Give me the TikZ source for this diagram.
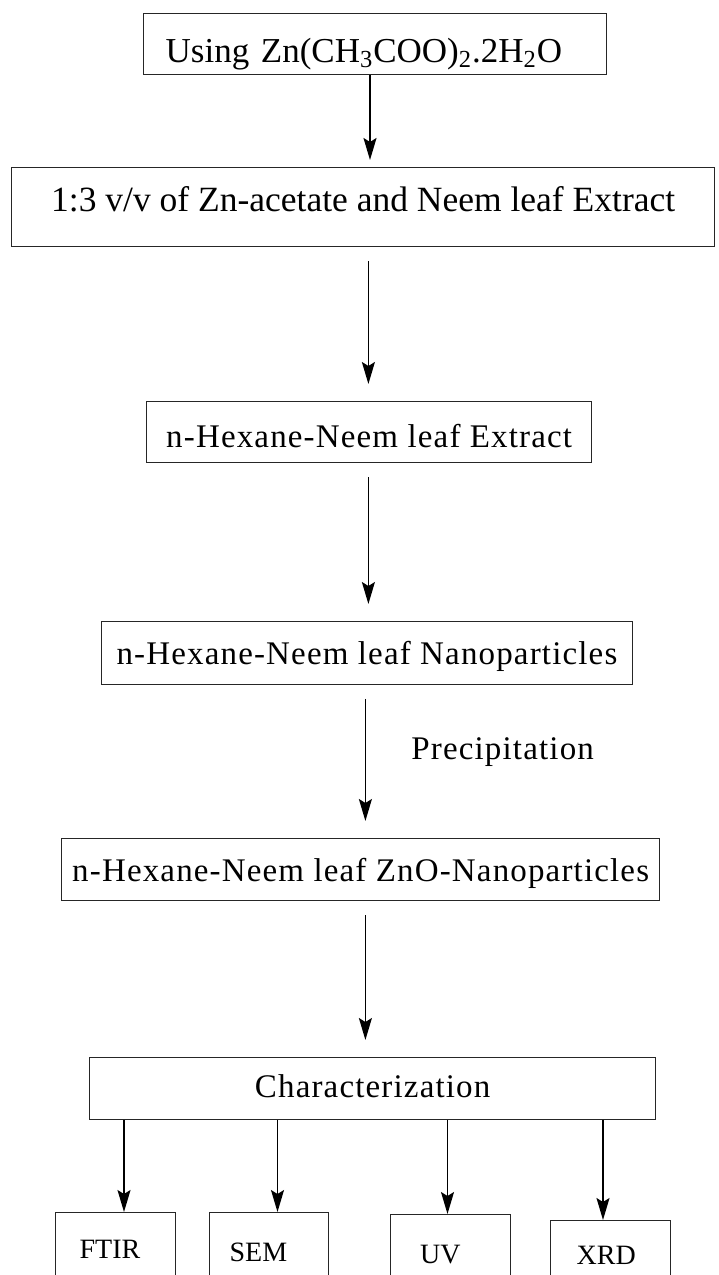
\documentclass[tikz,border=0pt]{standalone}
\usepackage{fontspec}
\setmainfont{Liberation Serif}
\newfontfamily\spacedfont[LetterSpace=3.5]{Liberation Serif}
\usetikzlibrary{arrows.meta}

\begin{document}
\begin{tikzpicture}[x=0.5pt, y=-0.5pt,
  stage/.style={draw=black!85, line width=0.65pt, inner ysep=0pt, anchor=north west},
  wide/.style={font=\spacedfont\fontsize{16.5}{19}\selectfont},
  probe/.style n args={3}{stage, align=left, inner xsep=#1, text width=#2,
    text height=#3, text depth=17pt, font=\fontsize{14}{17}\selectfont},
  link/.style={-{Stealth[length=11pt, width=6.5pt, inset=2pt]}, line width=0.75pt},
  flow/.style={link, shorten <=7pt, shorten >=8.5pt}]
\path[use as bounding box, clip] (0,0) rectangle (718,1275);

% main chain
\node[stage, inner xsep=11pt, text width=209.5pt, align=left, text height=24.5pt,
  text depth=6pt, font=\fontsize{17.5}{21}\selectfont] (src) at (143,13)
  {Using Zn(CH\textsubscript{3}COO)\textsubscript{2}.2H\textsubscript{2}O};
\node[stage, inner xsep=0pt, minimum width=351.5pt, text height=22pt, text depth=17.5pt,
  font=\fontsize{17.75}{21}\selectfont] (mix) at (11,167)
  {1:3 v/v of Zn-acetate and Neem leaf Extract};
\node[stage, wide, inner xsep=0pt, minimum width=222.5pt, text height=23pt,
  text depth=7.5pt] (hex) at (146,401) {n-Hexane-Neem leaf Extract};
\node[stage, wide, inner xsep=0pt, minimum width=265.3pt, text height=21.5pt,
  text depth=9.75pt] (nano) at (101,621) {n-Hexane-Neem leaf Nanoparticles};
\node[stage, wide, inner xsep=0pt, minimum width=299pt, text height=21.5pt,
  text depth=9.5pt] (zno) at (61,838) {n-Hexane-Neem leaf ZnO-Nanoparticles};
\node[stage, wide, inner xsep=0pt, minimum width=283pt, text height=20pt,
  text depth=11pt] (chr) at (89,1057) {Characterization};
\node[wide, anchor=base west, inner sep=0pt] (prec) at (411,759) {Precipitation};

% techniques
\node[probe={12pt}{36pt}{23pt}] (ftir) at (55,1212) {FTIR};
\node[probe={10pt}{39.5pt}{24.5pt}] (sem) at (209,1212) {SEM};
\node[probe={14.75pt}{30.5pt}{24.5pt}] (uv) at (390,1214) {UV};
\node[probe={13pt}{34pt}{22pt}] (xrd) at (550,1220) {XRD};

\draw[link, shorten >=3.5pt] (src.south -| 370,0) -- (mix.north -| 370,0);
\draw[flow] (mix.south -| 368.4,0) -- (hex.north -| 368.4,0);
\draw[flow] (hex.south -| 368.4,0) -- (nano.north -| 368.4,0);
\draw[flow] (nano.south -| 365.4,0) -- (zno.north -| 365.4,0);
\draw[flow] (zno.south -| 365.4,0) -- (chr.north -| 365.4,0);
\foreach \b/\x in {ftir/124, sem/277.5, uv/447.5, xrd/603}
  \draw[link] (chr.south -| \x,0) -- (\b.north -| \x,0);
\end{tikzpicture}
\end{document}
